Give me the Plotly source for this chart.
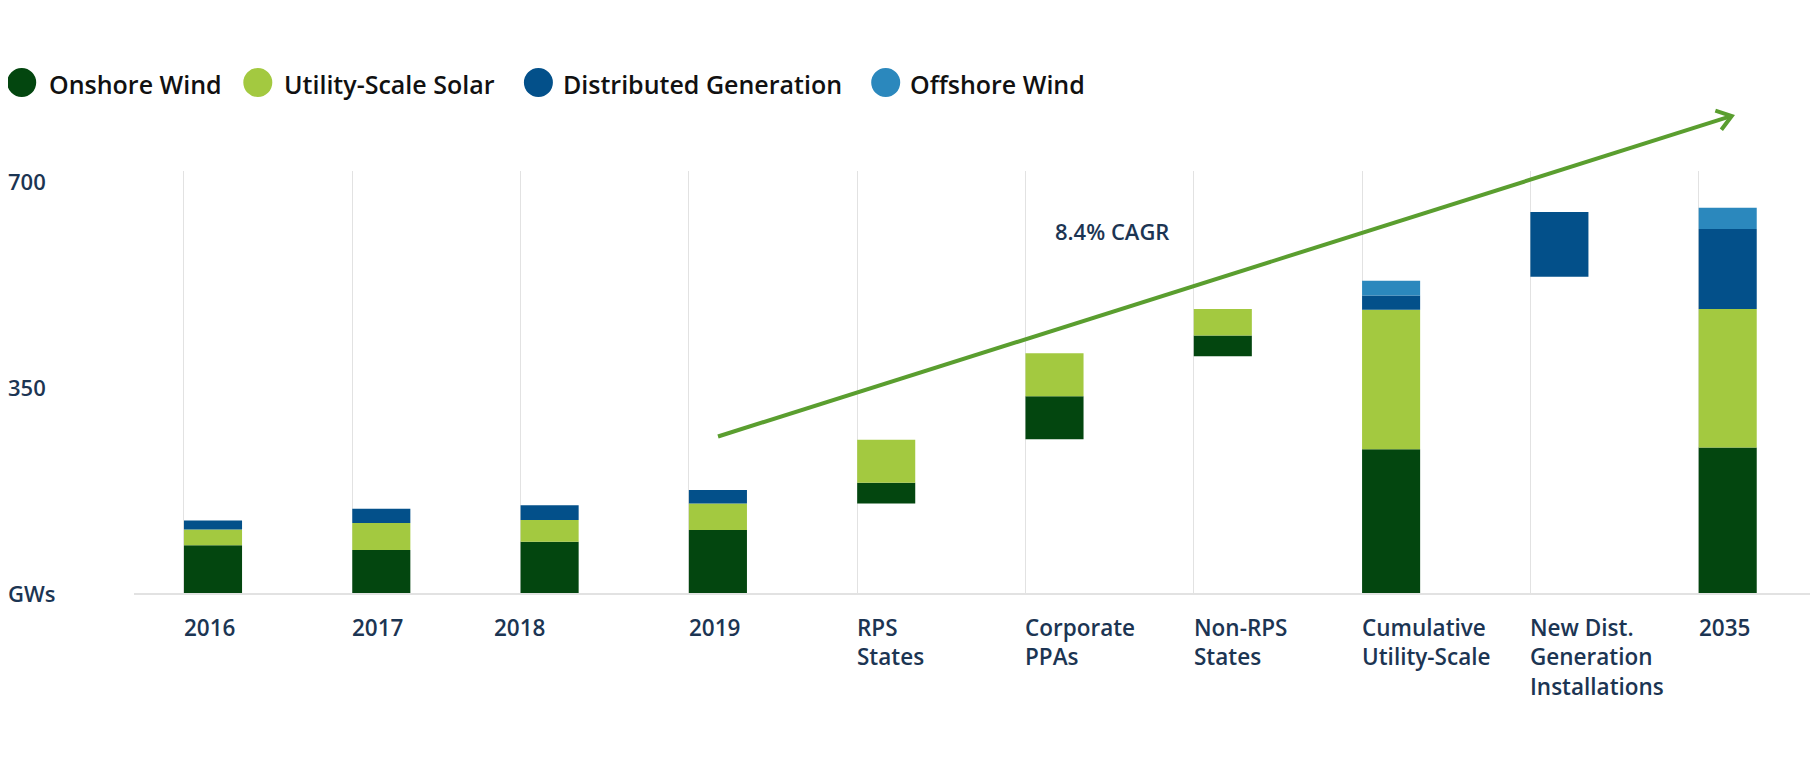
import plotly.graph_objects as go

# ---------------- data ----------------
categories = ["2016", "2017", "2018", "2019", "RPS<br>States", "Corporate<br>PPAs",
              "Non-RPS<br>States", "Cumulative<br>Utility-Scale",
              "New Dist.<br>Generation<br>Installations", "2035"]
float_base = [0, 0, 0, 0, 152, 261, 402, 0, 537, 0]
onshore_wind = [81, 73, 87, 107, 35, 73, 35, 244, 0, 247]
utility_solar = [27, 46, 37, 45, 73, 73, 45, 237, 0, 235]
distributed_gen = [15, 24, 25, 23, 0, 0, 0, 24, 110, 136]
offshore_wind = [0, 0, 0, 0, 0, 0, 0, 25, 0, 36]
series_names = ["Onshore Wind", "Utility-Scale Solar", "Distributed Generation", "Offshore Wind"]
y_tick_values = [0, 350, 700]
y_tick_labels = ["GWs", "350", "700"]
cagr_label = "8.4% CAGR"

# ---------------- style ----------------
colors = ["#03460f", "#a3c940", "#03508a", "#2b88bd"]
navy = "#1c3553"
arrow_color = "#5a9e2f"
grid_color = "#e2e2e2"
FONT = "Open Sans"

PAGE_OFF = 8  # default body margin of the html page
W, H = 1818 - PAGE_OFF, 757 - PAGE_OFF
ML, MR, MT = 134 - PAGE_OFF, 0, 171 - PAGE_OFF
PLOT_BOTTOM = 593 - PAGE_OFF
MB = H - PLOT_BOTTOM
PW, PH = W - ML - MR, H - MT - MB
X_RANGE = [-0.297, 9.709]
Y_RANGE = [0, 716.5]


def px_to_paper(px, py):
    """Convert window pixel position to paper coordinates."""
    px -= PAGE_OFF
    py -= PAGE_OFF
    return (px - ML) / PW, (PLOT_BOTTOM - py) / PH


fig = go.Figure()

series = [onshore_wind, utility_solar, distributed_gen, offshore_wind]
running = list(float_base)
xs = list(range(len(categories)))
for name, vals, col in zip(series_names, series, colors):
    bases = list(running)
    fig.add_trace(go.Bar(
        x=xs,
        y=[v if v else None for v in vals],
        base=bases,
        width=0.345,
        offset=0,
        name=name,
        marker=dict(color=col, line=dict(width=0)),
        showlegend=False,
        hovertemplate=name + ": %{y}<extra></extra>",
    ))
    running = [r + v for r, v in zip(running, vals)]

annotations = []
shapes = []

# x category labels (left aligned at gridline)
label_top = px_to_paper(0, 610)[1]
for i, cat in enumerate(categories):
    annotations.append(dict(
        x=i, xref="x", y=label_top, yref="paper",
        xanchor="left", yanchor="top", align="left",
        text=cat, showarrow=False,
        xshift=(-29 if cat == "2018" else -2),
        font=dict(family=FONT, size=22.5, color=navy, weight=600),
    ))

# y tick labels
ylab_x = px_to_paper(6, 0)[0]
for v, lab in zip(y_tick_values, y_tick_labels):
    annotations.append(dict(
        x=ylab_x, xref="paper", y=v, yref="y",
        xanchor="left", yanchor="middle", text=lab, showarrow=False,
        font=dict(family=FONT, size=22, color=navy, weight=600),
    ))

# CAGR label
cx, cy = px_to_paper(1053, 230.5)
annotations.append(dict(
    x=cx, xref="paper", y=cy, yref="paper", xanchor="left", yanchor="middle",
    text=cagr_label, showarrow=False,
    font=dict(family=FONT, size=22, color=navy, weight=600),
))

# growth arrow
sx, sy = 718, 436.5
tx, ty = 1731.7, 116
dx, dy = tx - sx, ty - sy
L = (dx ** 2 + dy ** 2) ** 0.5
ux, uy = dx / L, dy / L
nx, ny = -uy, ux
a, b = 14, 10
p0 = px_to_paper(sx, sy)
p1 = px_to_paper(tx - ux * 1.5, ty - uy * 1.5)
shapes.append(dict(type="line", xref="paper", yref="paper",
                   x0=p0[0], y0=p0[1], x1=p1[0], y1=p1[1],
                   line=dict(color=arrow_color, width=4)))
a1 = px_to_paper(tx - a * ux + b * nx, ty - a * uy + b * ny)
tp = px_to_paper(tx, ty)
a2 = px_to_paper(tx - a * ux - b * nx, ty - a * uy - b * ny)
shapes.append(dict(type="path", xref="paper", yref="paper",
                   path=f"M {a1[0]},{a1[1]} L {tp[0]},{tp[1]} L {a2[0]},{a2[1]}",
                   line=dict(color=arrow_color, width=4)))

# legend (circle markers + labels)
legend_circle_x = [21.7, 257.8, 538.4, 885.7]
legend_text_x = [47, 282, 561, 908]
legend_y = 82.5
for name, col, cxp, txp in zip(series_names, colors, legend_circle_x, legend_text_x):
    px_, py_ = px_to_paper(cxp, legend_y)
    shapes.append(dict(type="circle", xref="paper", yref="paper",
                       xsizemode="pixel", ysizemode="pixel",
                       xanchor=px_, yanchor=py_,
                       x0=-14.5, x1=14.5, y0=-14.5, y1=14.5,
                       fillcolor=col, line=dict(width=0)))
    tx_, ty_ = px_to_paper(txp, legend_y + 2)
    annotations.append(dict(
        x=tx_, xref="paper", y=ty_, yref="paper", xanchor="left", yanchor="middle",
        text=name, showarrow=False,
        font=dict(family=FONT, size=25, color="#111111", weight=600),
    ))

fig.update_layout(
    width=W, height=H,
    margin=dict(l=ML, r=MR, t=MT, b=MB, autoexpand=False),
    paper_bgcolor="white", plot_bgcolor="white",
    barmode="overlay",
    showlegend=False,
    annotations=annotations,
    shapes=shapes,
    xaxis=dict(range=X_RANGE, tickvals=xs, showticklabels=False, ticks="",
               showgrid=True, gridcolor=grid_color, gridwidth=1,
               showline=True, linecolor=grid_color, linewidth=2,
               zeroline=False, fixedrange=True),
    yaxis=dict(range=Y_RANGE, showticklabels=False, showgrid=False,
               zeroline=False, ticks="", fixedrange=True),
    font=dict(family=FONT),
)

fig.write_html("out.html")
